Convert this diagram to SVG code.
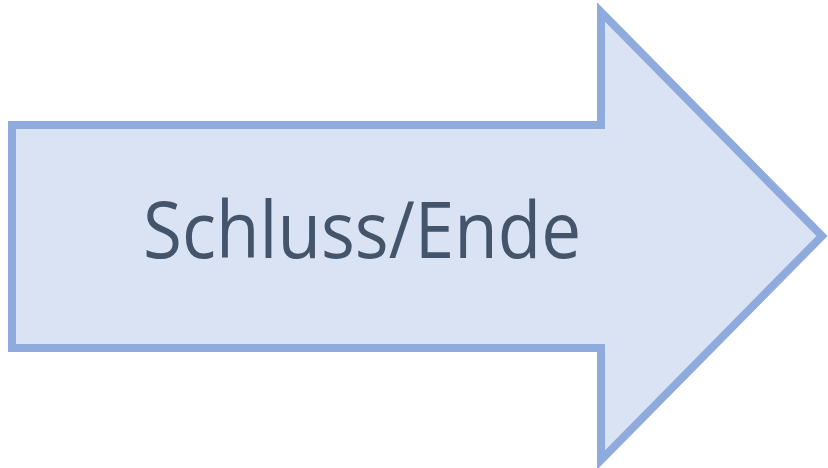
<svg xmlns="http://www.w3.org/2000/svg" width="828" height="468" viewBox="0 0 828 468">
<style>
.arrow{fill:#dae3f3;stroke:#8faadc;stroke-width:8;stroke-linejoin:miter;stroke-miterlimit:10}
.lbl{font-family:"Open Sans","Noto Sans",sans-serif;font-size:78px;fill:#44546a}
</style>
<rect width="828" height="468" fill="#ffffff"/>
<g id="arrow-node">
<polygon class="arrow" points="12,125 601,125 601,12 822,236 601,460 601,348 12,348"/>
<text class="lbl" x="362" y="258" text-anchor="middle" textLength="438" lengthAdjust="spacingAndGlyphs">Schluss/Ende</text>
</g>
<g id="connectors"></g>
</svg>
